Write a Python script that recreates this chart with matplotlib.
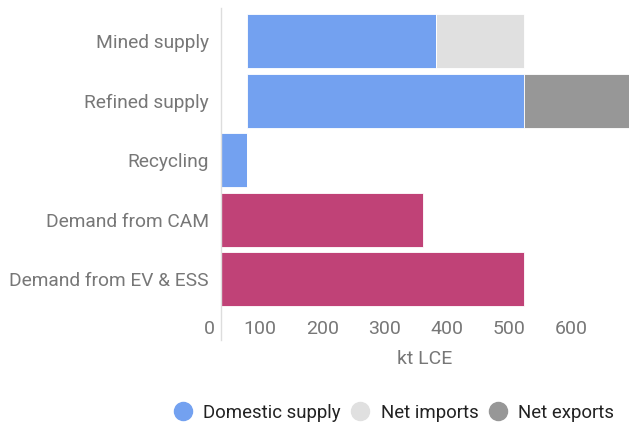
import matplotlib
matplotlib.use("Agg")
import matplotlib.pyplot as plt
from matplotlib.lines import Line2D

plt.rcParams['font.family'] = ['Roboto', 'DejaVu Sans']

categories = ['Mined supply', 'Refined supply', 'Recycling', 'Demand from CAM', 'Demand from EV & ESS']
offset = [79, 79, 0, 0, 0]
domestic = [303, 444, 79, 0, 0]
net_imports = [141, 0, 0, 0, 0]
net_exports = [0, 190, 0, 0, 0]
demand = [0, 0, 0, 361, 523]
x_ticks = [100, 200, 300, 400, 500, 600]

blue = '#73a1f0'
light = '#e0e0e0'
dark = '#979797'
pink = '#c04277'
grey_txt = '#777777'

fig = plt.figure(figsize=(6.29, 4.29), dpi=100)
ax = fig.add_axes([220.7 / 629, (429 - 313) / 429, 1 - 220.7 / 629, (313 - 8) / 429])

y = list(range(len(categories)))
w = 0.906
dom_end = [o + d for o, d in zip(offset, domestic)]
ax.barh(y, domestic, left=offset, height=w, color=blue, edgecolor='white', linewidth=0.6)
ax.barh(y, net_imports, left=dom_end, height=w, color=light, edgecolor='white', linewidth=0.6)
ax.barh(y, net_exports, left=dom_end, height=w, color=dark, edgecolor='white', linewidth=0.6)
ax.barh(y, demand, height=w, color=pink, edgecolor='white', linewidth=0.6)

ax.set_xlim(36.4, 692)
ax.set_ylim(4.564, -0.554)
ax.set_yticks(y)
ax.set_yticklabels(categories)
ax.set_xticks(x_ticks)
ax.tick_params(axis='both', length=0, labelsize=14, colors=grey_txt)
ax.tick_params(axis='y', pad=8.4, labelsize=13.8)
ax.tick_params(axis='x', pad=5)
for s in ['top', 'right', 'bottom', 'left']:
    ax.spines[s].set_visible(False)
ax.axvline(36.4, ymin=-0.09, ymax=1, color='#dddddd', linewidth=1, clip_on=False)
ax.annotate('0', xy=(0, 0), xycoords='axes fraction', xytext=(-8.4, -5),
            textcoords='offset points', ha='center', va='top', fontsize=14, color=grey_txt)
ax.set_xlabel('kt LCE', fontsize=14, color=grey_txt, labelpad=9)

handles = [Line2D([], [], marker='o', linestyle='none', markersize=13, color=c)
           for c in [blue, light, dark]]
fig.legend(handles, ['Domestic supply', 'Net imports', 'Net exports'], loc='center',
           bbox_to_anchor=(393 / 629, 1 - 413 / 429), ncol=3, frameon=False,
           fontsize=13.4, handletextpad=0.5, columnspacing=0.43, handlelength=1.2,
           borderpad=0, borderaxespad=0, labelcolor='#222222')

fig.savefig('out.png', dpi=100)
